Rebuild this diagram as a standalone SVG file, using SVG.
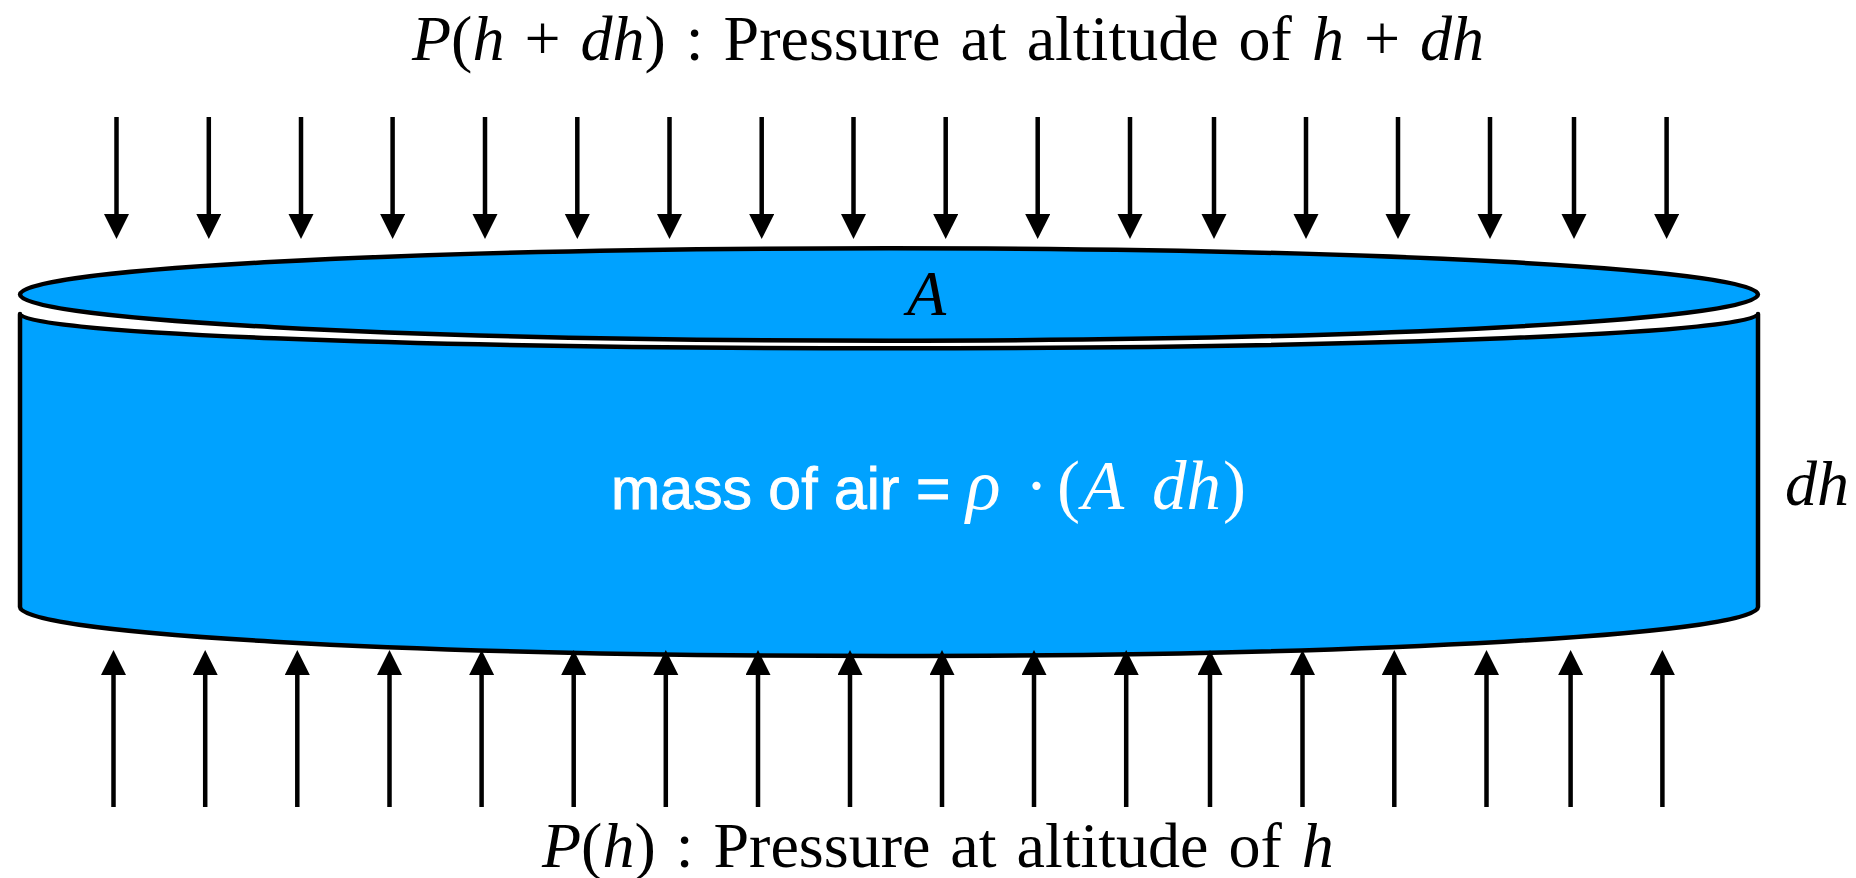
<svg xmlns="http://www.w3.org/2000/svg" width="1856" height="878" viewBox="0 0 1856 878">
<style>
.serif{font-family:"Liberation Serif","Times New Roman",serif;fill:#000}
.it{font-style:italic}
.sans{font-family:"Liberation Sans",Arial,sans-serif}
.w{fill:#fff}
.shape{fill:#00A2FF;stroke:#000;stroke-width:4.5;stroke-linejoin:round}
.arr{stroke:#000;stroke-width:4.5;fill:none;marker-end:url(#ah)}
</style>
<defs>
<marker id="ah" markerUnits="userSpaceOnUse" markerWidth="26" markerHeight="26" refX="11" refY="12.5" orient="auto">
<path d="M0,0 L25,12.5 L0,25 Z" fill="#000"/>
</marker>
</defs>
<rect width="1856" height="878" fill="#fff"/>

<g id="top-label">
<text class="serif" x="412" y="60" font-size="64" word-spacing="4"><tspan class="it">P</tspan>(<tspan class="it">h</tspan> + <tspan class="it">dh</tspan>) : Pressure at altitude of <tspan class="it">h</tspan> + <tspan class="it">dh</tspan></text>
</g>

<g id="cylinder">
<path id="body" class="shape" d="M20,314 L20,607 A869,49 0 0 0 1758,607 L1758,314 A869,34.3 0 0 1 20,314 Z"/>
<ellipse id="top-face" class="shape" cx="889" cy="294.5" rx="869" ry="46.2"/>
<text class="serif it" x="907" y="315" font-size="64">A</text>
<text x="611" y="509" class="w"><tspan class="sans w" font-size="59" stroke="#fff" stroke-width="0.9">mass of air =</tspan><tspan class="serif it w" x="966" font-size="72">ρ</tspan><tspan class="serif w" x="1025" font-size="69">·</tspan><tspan class="serif w" x="1057" font-size="69">(</tspan><tspan class="serif it w" x="1082" font-size="69">A</tspan><tspan class="serif it w" x="1152" font-size="69">dh</tspan><tspan class="serif w" x="1223" font-size="69">)</tspan></text>
</g>

<g id="dh-label">
<text class="serif it" x="1785" y="505" font-size="64">dh</text>
</g>

<g id="connectors">
<line class="arr" x1="116.5" y1="117" x2="116.5" y2="225"/>
<line class="arr" x1="208.8" y1="117" x2="208.8" y2="225"/>
<line class="arr" x1="301" y1="117" x2="301" y2="225"/>
<line class="arr" x1="392.6" y1="117" x2="392.6" y2="225"/>
<line class="arr" x1="485" y1="117" x2="485" y2="225"/>
<line class="arr" x1="577.3" y1="117" x2="577.3" y2="225"/>
<line class="arr" x1="669.5" y1="117" x2="669.5" y2="225"/>
<line class="arr" x1="761.7" y1="117" x2="761.7" y2="225"/>
<line class="arr" x1="853.5" y1="117" x2="853.5" y2="225"/>
<line class="arr" x1="945.7" y1="117" x2="945.7" y2="225"/>
<line class="arr" x1="1037.7" y1="117" x2="1037.7" y2="225"/>
<line class="arr" x1="1130" y1="117" x2="1130" y2="225"/>
<line class="arr" x1="1214" y1="117" x2="1214" y2="225"/>
<line class="arr" x1="1306" y1="117" x2="1306" y2="225"/>
<line class="arr" x1="1398" y1="117" x2="1398" y2="225"/>
<line class="arr" x1="1490" y1="117" x2="1490" y2="225"/>
<line class="arr" x1="1574" y1="117" x2="1574" y2="225"/>
<line class="arr" x1="1666.6" y1="117" x2="1666.6" y2="225"/>
<line class="arr" x1="113.5" y1="807" x2="113.5" y2="664"/>
<line class="arr" x1="205.2" y1="807" x2="205.2" y2="664"/>
<line class="arr" x1="297.3" y1="807" x2="297.3" y2="664"/>
<line class="arr" x1="389.5" y1="807" x2="389.5" y2="664"/>
<line class="arr" x1="481.6" y1="807" x2="481.6" y2="664"/>
<line class="arr" x1="573.7" y1="807" x2="573.7" y2="664"/>
<line class="arr" x1="665.8" y1="807" x2="665.8" y2="664"/>
<line class="arr" x1="758" y1="807" x2="758" y2="664"/>
<line class="arr" x1="850" y1="807" x2="850" y2="664"/>
<line class="arr" x1="942" y1="807" x2="942" y2="664"/>
<line class="arr" x1="1034" y1="807" x2="1034" y2="664"/>
<line class="arr" x1="1126.2" y1="807" x2="1126.2" y2="664"/>
<line class="arr" x1="1210" y1="807" x2="1210" y2="664"/>
<line class="arr" x1="1302.5" y1="807" x2="1302.5" y2="664"/>
<line class="arr" x1="1394.3" y1="807" x2="1394.3" y2="664"/>
<line class="arr" x1="1486.5" y1="807" x2="1486.5" y2="664"/>
<line class="arr" x1="1570.6" y1="807" x2="1570.6" y2="664"/>
<line class="arr" x1="1662.4" y1="807" x2="1662.4" y2="664"/>
</g>

<g id="bottom-label">
<text class="serif" x="542" y="867" font-size="64" word-spacing="4"><tspan class="it">P</tspan>(<tspan class="it">h</tspan>) : Pressure at altitude of <tspan class="it">h</tspan></text>
</g>
</svg>
